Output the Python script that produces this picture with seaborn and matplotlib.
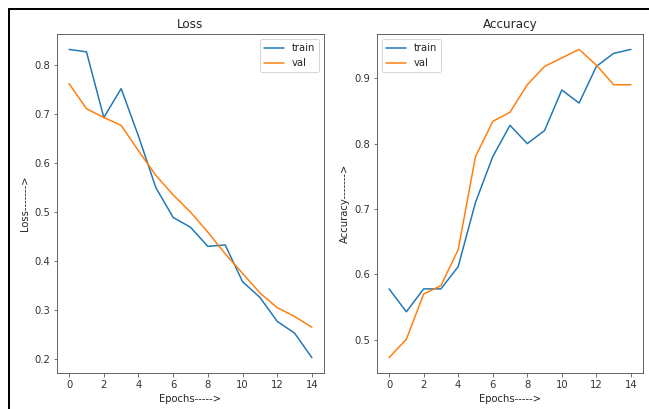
import matplotlib
matplotlib.use("Agg")
import matplotlib.pyplot as plt
import seaborn as sns
from matplotlib.lines import Line2D

# Values
epochs = list(range(15))
loss_train = [0.832, 0.827, 0.693, 0.752, 0.655, 0.550, 0.489, 0.469, 0.430, 0.433,
              0.358, 0.326, 0.277, 0.253, 0.203]
loss_val = [0.762, 0.711, 0.693, 0.677, 0.625, 0.575, 0.535, 0.500, 0.459, 0.415,
            0.375, 0.335, 0.305, 0.287, 0.265]
acc_train = [0.578, 0.543, 0.578, 0.578, 0.612, 0.710, 0.780, 0.828, 0.800, 0.820,
             0.882, 0.862, 0.918, 0.938, 0.944]
acc_val = [0.473, 0.501, 0.570, 0.583, 0.638, 0.780, 0.834, 0.848, 0.890, 0.918,
           0.931, 0.944, 0.920, 0.890, 0.890]

series_labels = ["train", "val"]
colors = ["#1f77b4", "#ff7f0e"]


def main():
    sns.set_style("white")
    plt.rcParams["font.family"] = ["DejaVu Sans"]
    plt.rcParams["font.size"] = 10
    plt.rcParams["axes.edgecolor"] = "#555555"
    plt.rcParams["xtick.bottom"] = True
    plt.rcParams["ytick.left"] = True

    fig = plt.figure(figsize=(649 / 72, 409 / 72), dpi=72)
    ax1 = fig.add_axes([57 / 649, 1 - 373 / 409, 267 / 649, 339 / 409])
    ax2 = fig.add_axes([377 / 649, 1 - 373 / 409, 266 / 649, 339 / 409])

    panels = [
        (ax1, (loss_train, loss_val), "Loss", "Loss------->", "upper right"),
        (ax2, (acc_train, acc_val), "Accuracy", "Accuracy------->", "upper left"),
    ]

    for ax, values, title, ylabel, loc in panels:
        for vals, lab, col in zip(values, series_labels, colors):
            sns.lineplot(x=epochs, y=vals, label=lab, color=col, linewidth=1.5, ax=ax)
        ax.set_title(title, fontsize=12)
        ax.set_xlabel("Epochs----->")
        ax.set_ylabel(ylabel)
        ax.set_xticks(range(0, 15, 2))
        ax.tick_params(length=3.5, color="#555555", labelcolor="#333333")
        ax.legend(loc=loc, frameon=True)
        for s in ax.spines.values():
            s.set_linewidth(0.9)

    # screenshot frame lines at top and left
    fig.add_artist(Line2D([9 / 649, 1], [1 - 9 / 409, 1 - 9 / 409],
                          transform=fig.transFigure, color="black", linewidth=2))
    fig.add_artist(Line2D([9 / 649, 9 / 649], [0, 1 - 9 / 409],
                          transform=fig.transFigure, color="black", linewidth=2))

    fig.savefig("out.png", dpi=72)


if __name__ == "__main__":
    main()
